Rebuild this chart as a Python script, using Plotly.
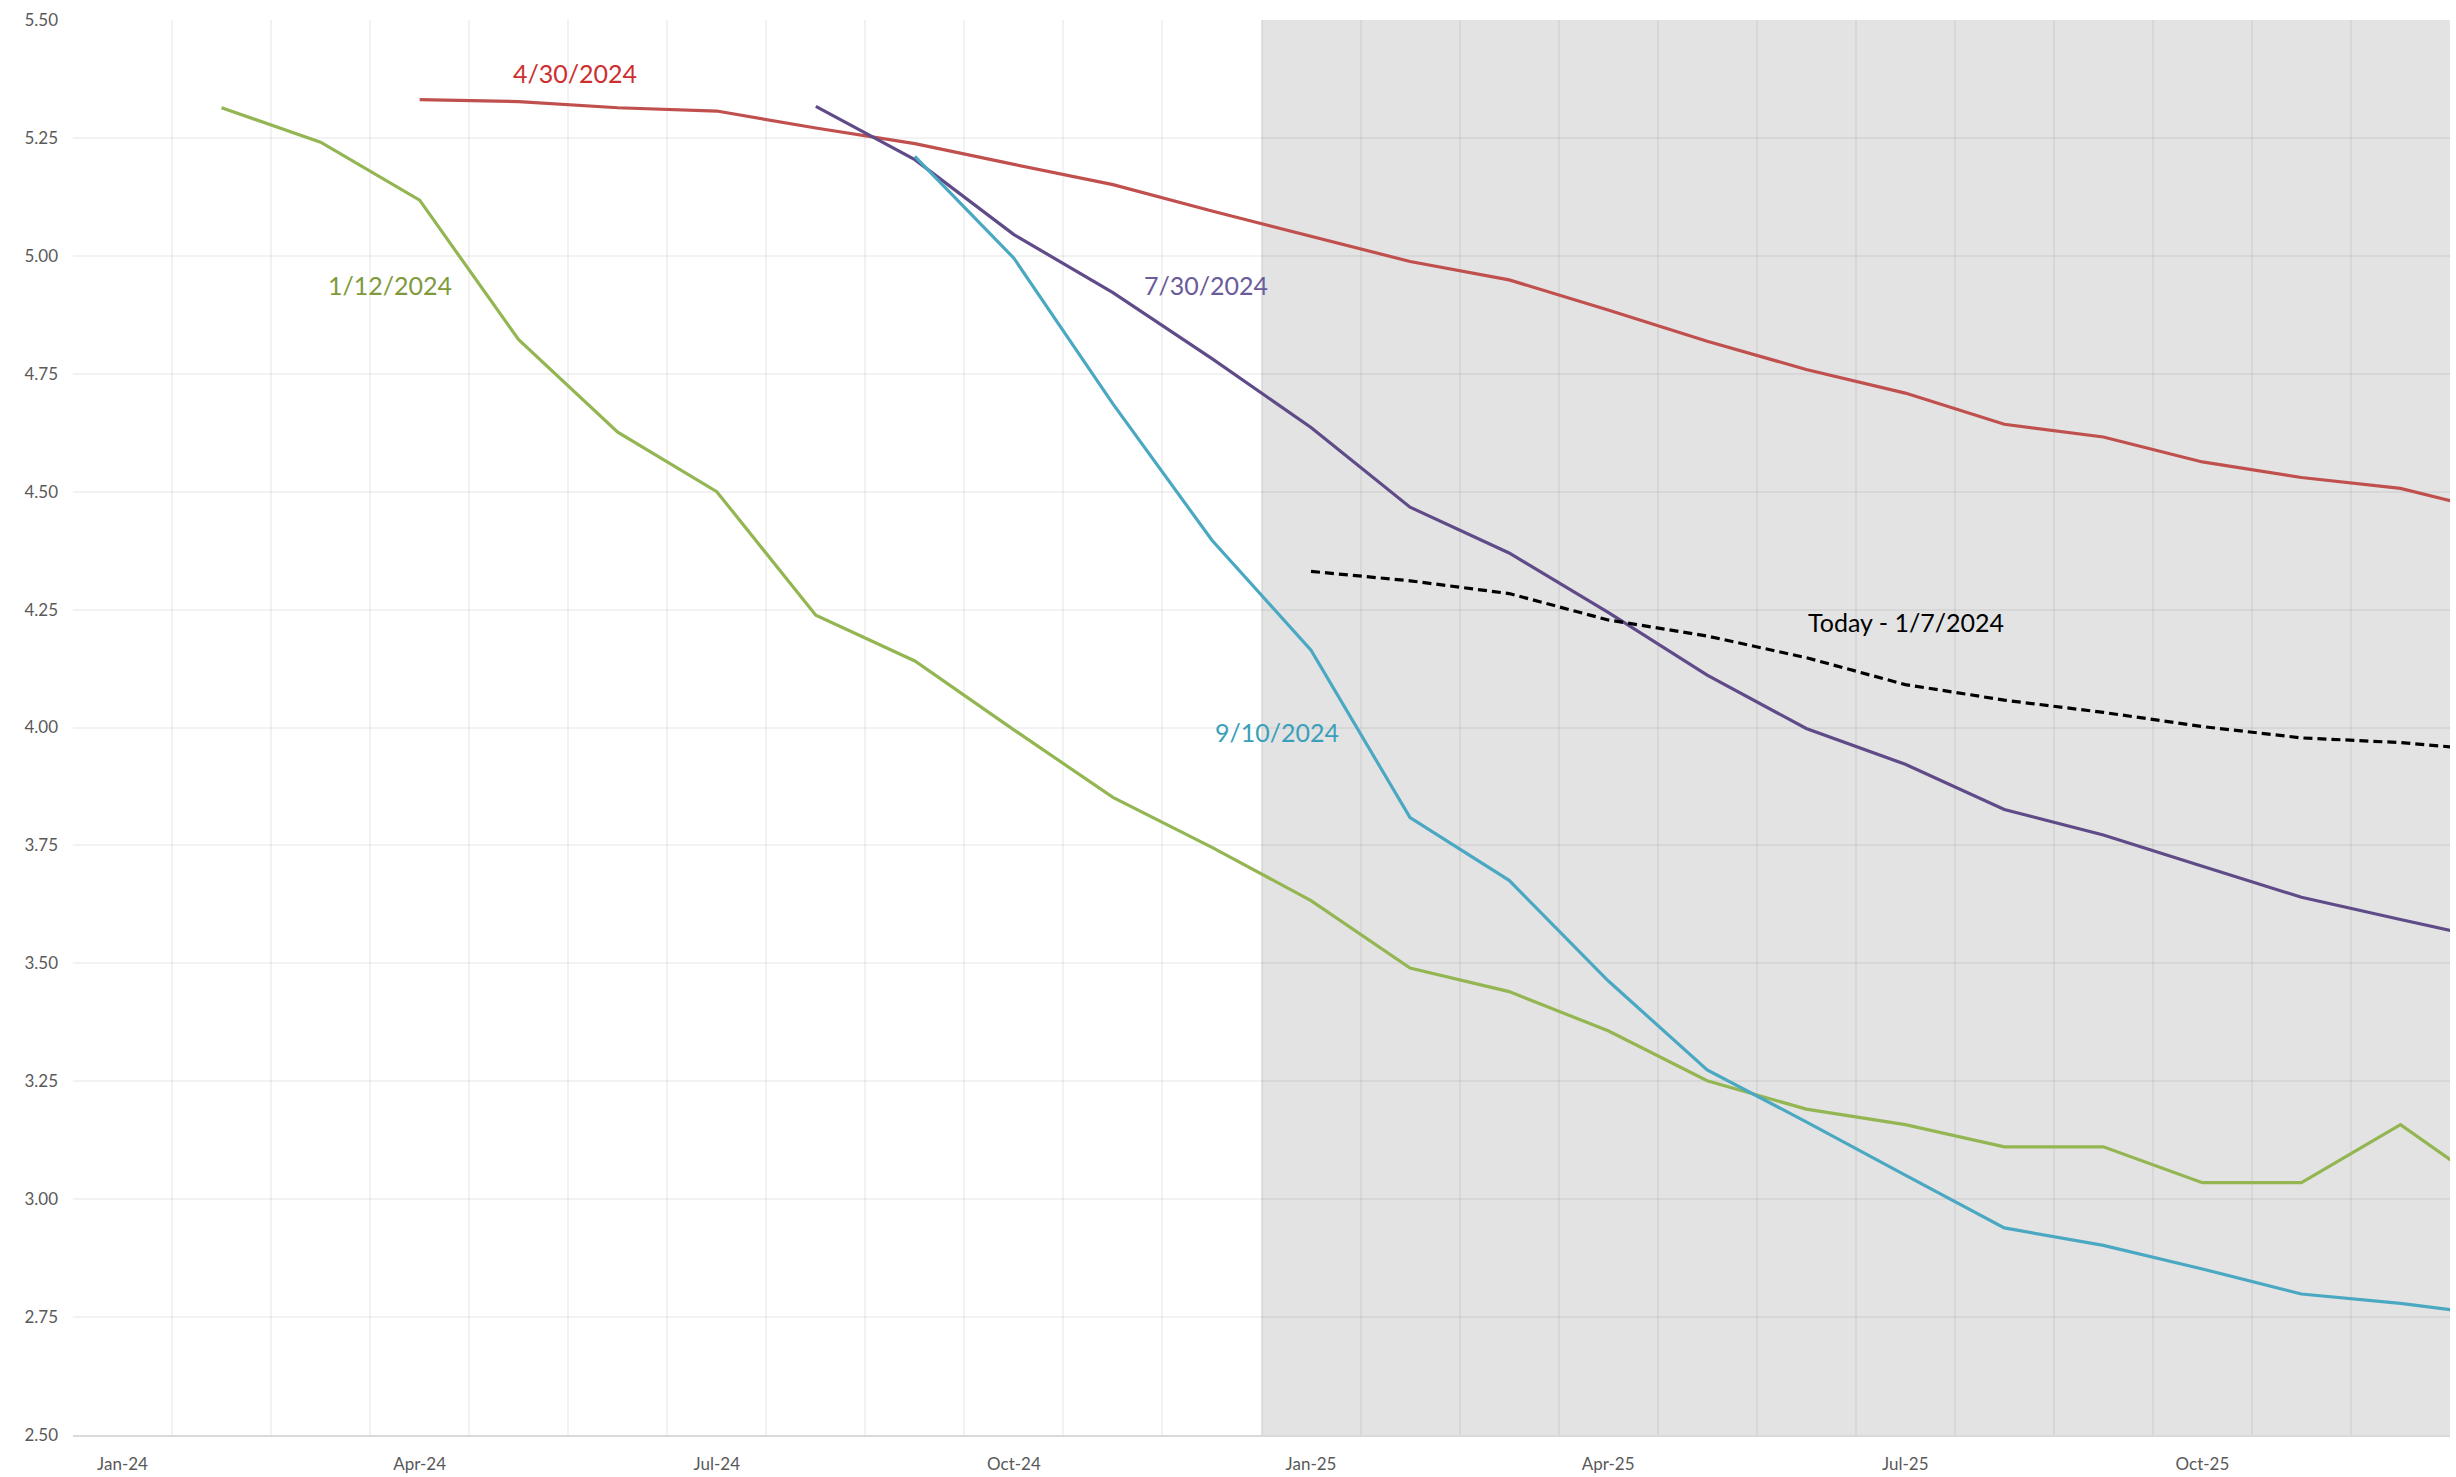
import plotly.graph_objects as go

# Monthly axis: Jan-24 .. Dec-25 shown, Jan-26 runs off the right edge
months = ["Jan-24", "Feb-24", "Mar-24", "Apr-24", "May-24", "Jun-24", "Jul-24", "Aug-24",
          "Sep-24", "Oct-24", "Nov-24", "Dec-24", "Jan-25", "Feb-25", "Mar-25", "Apr-25",
          "May-25", "Jun-25", "Jul-25", "Aug-25", "Sep-25", "Oct-25", "Nov-25", "Dec-25",
          "Jan-26"]
tick_months = ["Jan-24", "Apr-24", "Jul-24", "Oct-24", "Jan-25", "Apr-25", "Jul-25", "Oct-25"]

# Implied rate paths by curve date
curve_0112 = [None, 5.314, 5.241, 5.118, 4.822, 4.626, 4.500, 4.238, 4.141, 3.995, 3.852,
              3.746, 3.633, 3.490, 3.440, 3.357, 3.251, 3.191, 3.158, 3.111, 3.111, 3.035,
              3.035, 3.158, 3.010]
curve_0430 = [None, None, None, 5.331, 5.327, 5.314, 5.307, 5.271, 5.238, 5.194, 5.151,
              5.095, 5.042, 4.988, 4.949, 4.885, 4.819, 4.759, 4.709, 4.643, 4.616, 4.563,
              4.530, 4.507, 4.455]
curve_0730 = [None] * 7 + [5.317, 5.204, 5.045, 4.922, 4.782, 4.636, 4.467, 4.370, 4.244,
                           4.111, 3.998, 3.922, 3.826, 3.772, 3.706, 3.640, 3.593, 3.547]
curve_0910 = [None] * 8 + [5.211, 4.995, 4.686, 4.397, 4.164, 3.809, 3.676, 3.463, 3.274,
                           3.164, 3.051, 2.939, 2.902, 2.852, 2.799, 2.779, 2.753]
curve_today = [None] * 12 + [4.331, 4.311, 4.284, 4.228, 4.194, 4.148, 4.091, 4.058, 4.032,
                             4.002, 3.978, 3.968, 3.950]

y_ticks = [2.50, 2.75, 3.00, 3.25, 3.50, 3.75, 4.00, 4.25, 4.50, 4.75, 5.00, 5.25, 5.50]

x = list(range(len(months)))
shade_start = months.index("Jan-25") - 0.5
x_max = months.index("Dec-25") + 0.5

series = [
    ("1/12/2024", curve_0112, "#93b653", "solid"),
    ("4/30/2024", curve_0430, "#c0504d", "solid"),
    ("7/30/2024", curve_0730, "#5f4b88", "solid"),
    ("9/10/2024", curve_0910, "#4aa8c2", "solid"),
    ("Today - 1/7/2024", curve_today, "#000000", "9px,5px"),
]

fig = go.Figure()
for name, vals, color, dash in series:
    fig.add_trace(go.Scatter(
        x=x, y=vals, name=name, mode="lines",
        line=dict(color=color, width=3.2, dash=dash),
        connectgaps=False, showlegend=False,
    ))

# Series labels placed next to their curves
labels = [
    ("4/30/2024", 4.57, 5.388, "#cc2f2f"),
    ("1/12/2024", 2.70, 4.938, "#7f9a3c"),
    ("7/30/2024", 10.94, 4.938, "#6a5b9a"),
    ("9/10/2024", 11.66, 3.991, "#3aa0ba"),
    ("Today - 1/7/2024", 18.01, 4.224, "#000000"),
]
for text, lx, ly, col in labels:
    fig.add_annotation(x=lx, y=ly, text=text, showarrow=False,
                       font=dict(family="Lato", size=25, color=col),
                       xanchor="center", yanchor="middle")

# Forecast-period shading
fig.add_shape(type="rect", xref="x", yref="paper", x0=shade_start, x1=x_max + 1,
              y0=0, y1=1, fillcolor="#e3e3e3", line=dict(width=0), layer="below")

grid = "rgba(0,0,0,0.05)"
fig.update_xaxes(
    range=[-0.5, x_max],
    tickmode="array",
    tickvals=[months.index(m) for m in tick_months],
    ticktext=tick_months,
    showgrid=False,
    minor=dict(tickmode="linear", tick0=-0.5, dtick=1, showgrid=True,
               gridcolor=grid, gridwidth=2),
    showline=True, linecolor="#d9d9d9", linewidth=2,
    zeroline=False, ticks="",
    automargin=False,
    ticklabelstandoff=13,
    tickfont=dict(family="Lato", size=17, color="#595959"),
)
fig.update_yaxes(
    range=[2.5, 5.5],
    tickmode="array",
    tickvals=y_ticks,
    ticktext=[f"{v:.2f}" for v in y_ticks],
    showgrid=True, gridcolor=grid, gridwidth=2,
    zeroline=False, ticks="",
    showline=False,
    automargin=False,
    ticklabelstandoff=14,
    tickfont=dict(family="Lato", size=17, color="#595959"),
)
fig.update_layout(
    width=2456, height=1477,
    margin=dict(l=73, r=6, t=20, b=42, autoexpand=False),
    plot_bgcolor="#ffffff",
    paper_bgcolor="#ffffff",
)

fig.write_html("out.html")
